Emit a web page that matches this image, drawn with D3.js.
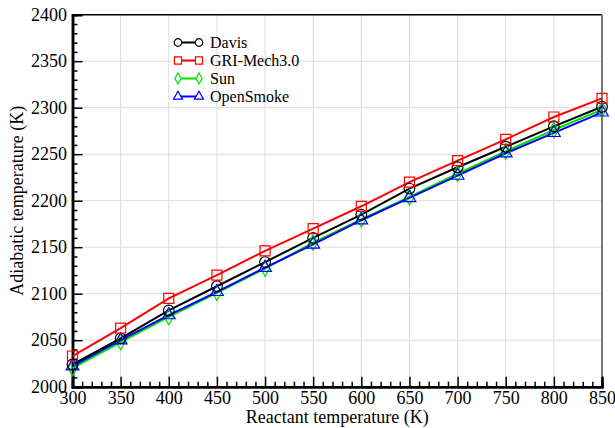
<!DOCTYPE html>
<html><head><meta charset="utf-8">
<script src="https://cdn.jsdelivr.net/npm/d3@7"></script>
<style>body{margin:0;background:#fff;} svg{display:block;} text{font-family:"Liberation Serif","Times New Roman",serif;}</style>
</head><body>
<svg id="c" width="615" height="428"></svg>
<script>
const xValues = [300,350,400,450,500,550,600,650,700,750,800,850];
const davis = [2024,2052,2082,2108,2134,2160,2185,2213,2236,2258,2280,2301];
const gri = [2033,2063,2095,2120,2146,2170,2194,2220,2243,2266,2290,2310];
const sun = [2020,2048,2075,2101,2127,2155,2180,2204,2229,2253,2276,2298];
const openSmoke = [2022,2050,2077,2102,2128,2153,2179,2203,2227,2251,2273,2295];
const seriesNames = ["Davis","GRI-Mech3.0","Sun","OpenSmoke"];
const seriesColors = ["#000000","#ff0000","#00dd00","#0000ff"];
const seriesSymbols = ["circle","square","diamond","triangle"];
const xTicks = [300,350,400,450,500,550,600,650,700,750,800,850];
const yTicks = [2000,2050,2100,2150,2200,2250,2300,2350,2400];

const FONT = "Liberation Serif";
const svg = d3.select("#c");
const L=72.5, R=602, T=14.7, B=386.7;
const x = d3.scaleLinear().domain([300,850]).range([L,R]);
const y = d3.scaleLinear().domain([2000,2400]).range([B,T]);

// grid
const g = svg.append("g");
g.selectAll(".gx").data(xTicks.slice(1,-1)).enter().append("line")
  .attr("x1",d=>x(d)).attr("x2",d=>x(d)).attr("y1",T).attr("y2",B)
  .attr("stroke","#dcdcdc").attr("stroke-width",1);
g.selectAll(".gy").data(yTicks.slice(1,-1)).enter().append("line")
  .attr("y1",d=>y(d)).attr("y2",d=>y(d)).attr("x1",L).attr("x2",R)
  .attr("stroke","#dcdcdc").attr("stroke-width",1);

// frame
svg.append("line").attr("x1",L).attr("x2",R).attr("y1",T).attr("y2",T).attr("stroke","#000").attr("stroke-width",1.5);
svg.append("line").attr("x1",R).attr("x2",R).attr("y1",T).attr("y2",B).attr("stroke","#777").attr("stroke-width",2);

// axes
const xAxis = d3.axisBottom(x).tickValues(xTicks).tickSize(-10).tickPadding(5).tickFormat(d3.format("d"));
const xMinor = d3.axisBottom(x).tickValues(d3.range(300,851,10).filter(v=>v%50!==0)).tickSize(-5).tickFormat("");
const yAxis = d3.axisLeft(y).tickValues(yTicks).tickSize(-10).tickPadding(5.5).tickFormat(d3.format("d"));
const yMinor = d3.axisLeft(y).tickValues(d3.range(2000,2401,10).filter(v=>v%50!==0)).tickSize(-5).tickFormat("");

function styleAxis(sel){
  sel.attr("font-family",FONT).attr("font-size",18);
  sel.select(".domain").attr("stroke","#000").attr("stroke-width",2.5);
  sel.selectAll(".tick line").attr("stroke","#000").attr("stroke-width",1.5);
  sel.selectAll(".tick text").attr("font-size",18).attr("fill","#000").attr("font-family",FONT);
}
const gxm = svg.append("g").attr("transform",`translate(0,${B})`).call(xMinor); styleAxis(gxm);
const gym = svg.append("g").attr("transform",`translate(${L},0)`).call(yMinor); styleAxis(gym);
const gx = svg.append("g").attr("transform",`translate(0,${B})`).call(xAxis); styleAxis(gx);
const gy = svg.append("g").attr("transform",`translate(${L},0)`).call(yAxis); styleAxis(gy);

// titles
svg.append("text").attr("x",(L+R)/2).attr("y",422.5).attr("text-anchor","middle").attr("font-size",18).attr("font-family",FONT).text("Reactant temperature (K)");
svg.append("text").attr("transform",`translate(23,${(T+B)/2}) rotate(-90)`).attr("text-anchor","middle").attr("font-size",18).attr("font-family",FONT).text("Adiabatic temperature (K)");

// series
const allSeries = [davis,gri,sun,openSmoke];
const line = d3.line().x((d,i)=>x(xValues[i])).y(d=>y(d));
const symMap = {circle:d3.symbolCircle,square:d3.symbolSquare,diamond:d3.symbolDiamond,triangle:d3.symbolTriangle};
const symSize = {circle:90,square:100,diamond:70,triangle:70};
const order = [2,3,0,1];
order.forEach(k=>{
  const vals = allSeries[k];
  svg.append("path").datum(vals).attr("d",line).attr("fill","none")
    .attr("stroke",seriesColors[k]).attr("stroke-width",2);
});
order.forEach(k=>{
  const vals = allSeries[k];
  const sym = d3.symbol().type(symMap[seriesSymbols[k]]).size(symSize[seriesSymbols[k]]);
  svg.selectAll(null).data(vals).enter().append("path")
    .attr("d",sym).attr("transform",(d,i)=>`translate(${x(xValues[i])},${y(d)})`)
    .attr("fill","none").attr("stroke",seriesColors[k]).attr("stroke-width",1.2);
});

// legend
const legY = [42.5,60.5,78.5,96.5];
seriesNames.forEach((n,k)=>{
  const gl = svg.append("g");
  gl.append("line").attr("x1",178).attr("x2",199).attr("y1",legY[k]).attr("y2",legY[k])
    .attr("stroke",seriesColors[k]).attr("stroke-width",2);
  const sym = d3.symbol().type(symMap[seriesSymbols[k]]).size(symSize[seriesSymbols[k]]*0.5);
  [178,199].forEach(px=>{
    gl.append("path").attr("d",sym).attr("transform",`translate(${px},${legY[k]})`)
      .attr("fill","#fff").attr("stroke",seriesColors[k]).attr("stroke-width",1.2);
  });
  gl.append("text").attr("x",210).attr("y",legY[k]).attr("dy","0.35em").attr("font-size",16).attr("font-family",FONT).text(n);
});
</script>
</body></html>
